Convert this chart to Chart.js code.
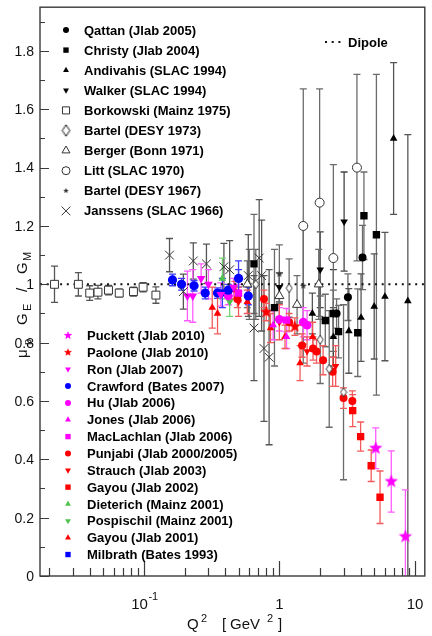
<!DOCTYPE html>
<html>
<head>
<meta charset="utf-8">
<script src="https://cdn.jsdelivr.net/npm/chart.js"></script>
<style>
  html, body { margin: 0; padding: 0; background: #fff; }
</style>
</head>
<body>
<div style="width:432px;height:636px">
  <canvas id="myChart" width="432" height="636"></canvas>
</div>
<script>
// each row: [Q2 (GeV^2), mu_p GE/GM, error]   error may be [down, up]
const qattan = [[2.64, 0.90, 0.05], [3.2, 0.956, 0.08], [4.1, 1.092, 0.11]];
const christy = [[0.65, 1.07, 0.17], [0.92, 0.92, 0.2], [2.18, 0.876, 0.09], [2.5, 0.90, 0.08], [2.73, 0.838, 0.09], [3.78, 0.834, 0.15], [4.2, 1.235, 0.15], [5.19, 1.17, 0.55]];
const andivahis = [[1.75, 0.90, 0.07], [2.5, 0.82, 0.1], [3.25, 0.84, 0.145], [4.0, 0.886, 0.15], [5.0, 0.924, 0.18], [6.0, 0.958, 0.22], [6.95, 1.50, 0.26], [8.85, 0.943, [0.95, 0.57]]];
const walker = [[1.0, 0.99, 0.05], [2.0, 1.05, 0.13], [2.5, 0.90, 0.15], [3.0, 1.215, 0.17]];
const borkowski = [[0.022, 1.0, 0.062], [0.033, 1.0, 0.04], [0.040, 0.97, 0.025], [0.046, 0.973, 0.023], [0.055, 0.98, 0.016], [0.066, 0.97, 0.013], [0.084, 0.975, 0.015], [0.099, 0.99, 0.016], [0.123, 0.963, 0.028]];
const bartel73 = [[0.67, 1.0, 0.12], [1.18, 0.987, 0.1], [2.0, 0.81, 0.15], [2.33, 0.71, 0.2], [2.97, 0.63, 0.3]];
const berger = [[0.58, 1.0, 0.08], [1.0, 0.96, 0.08], [1.35, 0.93, 0.1], [1.95, 1.0, 0.12]];
const litt = [[1.5, 1.2, 0.47], [1.98, 1.28, 0.39], [2.5, 1.09, 0.32], [3.73, 1.40, 0.32]];
const bartel67 = [[0.6, 1.0, 0.12], [1.0, 1.035, 0.1], [1.5, 0.995, 0.2]];
const janssens = [[0.155, 1.10, 0.057], [0.196, 0.975, 0.06], [0.232, 1.08, 0.062], [0.29, 1.07, 0.068], [0.39, 1.06, 0.08], [0.43, 1.05, 0.1], [0.59, 1.03, 0.14], [0.71, 1.09, 0.2], [0.65, 0.85, 0.18], [0.77, 0.78, 0.25], [0.84, 0.75, 0.3], [0.74, 1.03, 0.19]];

const puckett = [[5.13, 0.438, 0.07], [6.68, 0.324, 0.105], [8.49, 0.135, 0.16]];
const paolone = [[0.8, 0.905, 0.03], [1.3, 0.855, 0.03]];
const ron = [[0.21, 0.96, 0.085], [0.23, 0.96, 0.09], [0.265, 1.02, 0.05], [0.30, 1.0, 0.05], [0.37, 0.965, 0.04], [0.46, 0.99, 0.03]];
const crawford = [[0.163, 1.015, 0.02], [0.19, 1.0, 0.02], [0.235, 0.995, 0.018], [0.284, 0.97, 0.02], [0.35, 0.97, 0.018], [0.42, 0.98, 0.02], [0.50, 1.02, 0.03], [0.59, 0.96, 0.03]];
const hu = [[0.42, 0.96, 0.03], [1.0, 0.88, 0.04], [1.5, 0.87, 0.05], [1.6, 0.86, 0.05]];
const jones = [[0.9, 0.86, 0.05], [1.13, 0.82, 0.04]];
const maclachlan = [[0.5, 0.97, 0.03], [1.13, 0.877, 0.04]];
const punjabi = [[0.49, 0.95, 0.03], [0.77, 0.95, 0.03], [1.18, 0.87, 0.03], [1.47, 0.79, 0.04], [1.77, 0.78, 0.04], [1.88, 0.77, 0.04], [2.1, 0.74, 0.05], [2.47, 0.70, 0.05], [2.97, 0.61, 0.035], [3.45, 0.60, 0.035]];
const strauch = [[0.5, 0.94, 0.05], [1.0, 0.87, 0.06], [1.6, 0.77, 0.05], [2.6, 0.72, 0.07]];
const gayou02 = [[3.47, 0.567, 0.055], [3.97, 0.478, 0.05], [4.75, 0.378, 0.054], [5.52, 0.27, 0.09]];
const dieterich = [[0.38, 1.02, 0.07]];
const pospischil = [[0.43, 0.94, 0.05]];
const gayou01 = [[0.32, 0.92, 0.07], [0.35, 0.90, 0.07], [0.47, 0.98, 0.03], [0.58, 0.94, 0.04], [0.86, 0.85, 0.05], [1.1, 0.82, 0.04], [1.42, 0.73, 0.06], [1.76, 0.82, 0.05]];
const milbrath = [[0.38, 0.97, 0.05], [0.5, 1.02, 0.06]];

const dipoleQ2 = [0.0172, 11.8];
const dipoleRatio = [1, 1];

const yTicks = [0, 0.2, 0.4, 0.6, 0.8, 1, 1.2, 1.4, 1.6, 1.8];
const xTicks = [0.1, 1, 10];
const xTickLabels = [['10', '-1'], ['1', ''], ['10', '']];

const RED = '#ff0000', RED_ERR = '#f25b5b';
const MAG = '#ff00ff', MAG_ERR = '#ff5cff';
const BLUE = '#0000ff', BLUE_ERR = '#3c3cff';
const GREEN = '#4ec44e', GREEN_ERR = '#74d374';
const BLK = '#000000', BLK_ERR = '#6b6b6b';
const FONT = '"Liberation Sans", Arial, Helvetica, sans-serif';

function starImage(r, fill) {
  const c = document.createElement('canvas');
  c.width = c.height = Math.ceil(2 * r + 2);
  const g = c.getContext('2d');
  g.translate(c.width / 2, c.height / 2);
  g.beginPath();
  for (let i = 0; i < 10; i++) {
    const rr = i % 2 ? r * 0.42 : r;
    const a = -Math.PI / 2 + i * Math.PI / 5;
    g.lineTo(rr * Math.cos(a), rr * Math.sin(a));
  }
  g.closePath();
  g.fillStyle = fill;
  g.fill();
  return c;
}

function diamondImage(w, h, stroke) {
  const c = document.createElement('canvas');
  c.width = w + 2; c.height = h + 2;
  const g = c.getContext('2d');
  g.translate(c.width / 2, c.height / 2);
  g.beginPath();
  g.moveTo(0, -h / 2); g.lineTo(w / 2, 0); g.lineTo(0, h / 2); g.lineTo(-w / 2, 0);
  g.closePath();
  g.fillStyle = '#fff'; g.fill();
  g.strokeStyle = stroke; g.lineWidth = 1; g.stroke();
  return c;
}

function series(label, rows, group, style) {
  return Object.assign({
    label,
    group,
    data: rows.map(r => ({ x: r[0], y: r[1], e: r[2] })),
    borderWidth: 0,
    pointRotation: 0,
    errWidth: 1.3
  }, style);
}

const datasets = [
  series('Qattan (Jlab 2005)', qattan, 'top', { pointStyle: 'circle', pointRadius: 4, backgroundColor: BLK, borderColor: BLK, errColor: BLK_ERR, legendR: 3 }),
  series('Christy (Jlab 2004)', christy, 'top', { pointStyle: 'rect', pointRadius: 5.2, backgroundColor: BLK, borderColor: BLK, errColor: BLK_ERR, legendR: 3.8 }),
  series('Andivahis (SLAC 1994)', andivahis, 'top', { pointStyle: 'triangle', pointRadius: 4.4, backgroundColor: BLK, borderColor: BLK, errColor: '#555555', legendR: 3.4 }),
  series('Walker (SLAC 1994)', walker, 'top', { pointStyle: 'triangle', pointRotation: 180, pointRadius: 4.4, backgroundColor: BLK, borderColor: BLK, errColor: '#444444', legendR: 3.4 }),
  series('Borkowski (Mainz 1975)', borkowski, 'top', { pointStyle: 'rect', pointRadius: 5.6, backgroundColor: '#fff', borderColor: '#333', borderWidth: 1, errColor: '#555555', legendR: 5 }),
  series('Bartel (DESY 1973)', bartel73, 'top', { pointStyle: diamondImage(6, 9, '#333'), pointRadius: 5, backgroundColor: '#fff', borderColor: '#333', errColor: BLK_ERR, legendR: 5 }),
  series('Berger (Bonn 1971)', berger, 'top', { pointStyle: 'triangle', pointRadius: 5.2, backgroundColor: '#fff', borderColor: '#333', borderWidth: 1, errColor: BLK_ERR, legendR: 4.6 }),
  series('Litt (SLAC 1970)', litt, 'top', { pointStyle: 'circle', pointRadius: 4.5, backgroundColor: '#fff', borderColor: '#333', borderWidth: 1, errColor: BLK_ERR, legendR: 4 }),
  series('Bartel (DESY 1967)', bartel67, 'top', { pointStyle: starImage(3.6, '#333'), pointRadius: 4, backgroundColor: '#333', borderColor: '#333', errColor: BLK_ERR, legendR: 4 }),
  series('Janssens (SLAC 1966)', janssens, 'top', { pointStyle: 'crossRot', pointRadius: 6.2, backgroundColor: '#333', borderColor: '#333', borderWidth: 1, errColor: '#555555', legendR: 6.2 }),

  series('Puckett (Jlab 2010)', puckett, 'bottom', { pointStyle: starImage(7, MAG), pointRadius: 7, backgroundColor: MAG, borderColor: MAG, errColor: MAG_ERR, legendR: 5 }),
  series('Paolone (Jlab 2010)', paolone, 'bottom', { pointStyle: starImage(6.5, RED), pointRadius: 6.5, backgroundColor: RED, borderColor: RED, errColor: RED_ERR, legendR: 5 }),
  series('Ron (Jlab 2007)', ron, 'bottom', { pointStyle: 'triangle', pointRotation: 180, pointRadius: 5, backgroundColor: MAG, borderColor: MAG, errColor: MAG_ERR, legendR: 3.4 }),
  series('Crawford (Bates 2007)', crawford, 'bottom', { pointStyle: 'circle', pointRadius: 4.6, backgroundColor: BLUE, borderColor: BLUE, errColor: BLUE_ERR, legendR: 3 }),
  series('Hu (Jlab 2006)', hu, 'bottom', { pointStyle: 'circle', pointRadius: 4.4, backgroundColor: MAG, borderColor: MAG, errColor: MAG_ERR, legendR: 3 }),
  series('Jones (Jlab 2006)', jones, 'bottom', { pointStyle: 'triangle', pointRadius: 4.4, backgroundColor: MAG, borderColor: MAG, errColor: MAG_ERR, legendR: 3.4 }),
  series('MacLachlan (Jlab 2006)', maclachlan, 'bottom', { pointStyle: 'rect', pointRadius: 5.2, backgroundColor: MAG, borderColor: MAG, errColor: MAG_ERR, legendR: 3.8 }),
  series('Punjabi (Jlab 2000/2005)', punjabi, 'bottom', { pointStyle: 'circle', pointRadius: 4, backgroundColor: RED, borderColor: RED, errColor: RED_ERR, legendR: 3 }),
  series('Strauch (Jlab 2003)', strauch, 'bottom', { pointStyle: 'triangle', pointRotation: 180, pointRadius: 4.2, backgroundColor: RED, borderColor: RED, errColor: RED_ERR, legendR: 3.4 }),
  series('Gayou (Jlab 2002)', gayou02, 'bottom', { pointStyle: 'rect', pointRadius: 5.2, backgroundColor: RED, borderColor: RED, errColor: RED_ERR, legendR: 3.8 }),
  series('Dieterich (Mainz 2001)', dieterich, 'bottom', { pointStyle: 'triangle', pointRadius: 4.4, backgroundColor: GREEN, borderColor: GREEN, errColor: GREEN_ERR, legendR: 3.4 }),
  series('Pospischil (Mainz 2001)', pospischil, 'bottom', { pointStyle: 'triangle', pointRotation: 180, pointRadius: 4.4, backgroundColor: GREEN, borderColor: GREEN, errColor: GREEN_ERR, legendR: 3.4 }),
  series('Gayou (Jlab 2001)', gayou01, 'bottom', { pointStyle: 'triangle', pointRadius: 4.4, backgroundColor: RED, borderColor: RED, errColor: RED_ERR, legendR: 3.4 }),
  series('Milbrath (Bates 1993)', milbrath, 'bottom', { pointStyle: 'rect', pointRadius: 5, backgroundColor: BLUE, borderColor: BLUE, errColor: BLUE_ERR, legendR: 3.8 }),

  {
    label: 'Dipole',
    group: 'dipole',
    data: dipoleQ2.map((q, i) => ({ x: q, y: dipoleRatio[i] })),
    showLine: true,
    borderColor: '#111',
    borderWidth: 2,
    borderDash: [2, 4.7],
    pointRadius: 0,
    order: 10
  }
];

// draw a legend marker the same way as the points
function marker(ctx, ds, x, y) {
  const st = ds.pointStyle, r = ds.legendR;
  ctx.save();
  ctx.translate(x, y);
  ctx.rotate((ds.pointRotation || 0) * Math.PI / 180);
  ctx.fillStyle = ds.backgroundColor;
  ctx.strokeStyle = ds.borderColor;
  ctx.lineWidth = ds.borderWidth || 1;
  if (typeof st !== 'string') {
    const s = (2 * r) / st.width;
    ctx.drawImage(st, -st.width * s / 2, -st.height * s / 2, st.width * s, st.height * s);
    ctx.restore();
    return;
  }
  ctx.beginPath();
  if (st === 'circle') {
    ctx.arc(0, 0, r, 0, 2 * Math.PI);
  } else if (st === 'rect') {
    const h = r * Math.SQRT1_2;
    ctx.rect(-h, -h, 2 * h, 2 * h);
  } else if (st === 'triangle') {
    for (let i = 0; i < 3; i++) {
      const a = i * 2 * Math.PI / 3;
      ctx.lineTo(Math.sin(a) * r, -Math.cos(a) * r);
    }
  } else if (st === 'crossRot') {
    const h = r * Math.SQRT1_2;
    ctx.moveTo(-h, -h); ctx.lineTo(h, h);
    ctx.moveTo(-h, h); ctx.lineTo(h, -h);
    ctx.stroke();
    ctx.restore();
    return;
  }
  ctx.closePath();
  ctx.fill();
  if (ds.borderWidth) ctx.stroke();
  ctx.restore();
}

const errorBars = {
  id: 'errorBars',
  beforeDatasetsDraw(chart) {
    const { ctx, chartArea: a, scales: { x, y } } = chart;
    ctx.save();
    ctx.beginPath();
    ctx.rect(a.left, a.top, a.right - a.left, a.bottom - a.top);
    ctx.clip();
    const cap = 3.5;
    chart.data.datasets.forEach(ds => {
      if (!ds.errColor) return;
      ctx.strokeStyle = ds.errColor;
      ctx.lineWidth = ds.errWidth;
      ds.data.forEach(p => {
        const dn = Array.isArray(p.e) ? p.e[0] : p.e;
        const up = Array.isArray(p.e) ? p.e[1] : p.e;
        const px = x.getPixelForValue(p.x);
        const y0 = y.getPixelForValue(p.y - dn);
        const y1 = y.getPixelForValue(p.y + up);
        ctx.beginPath();
        ctx.moveTo(px, y0); ctx.lineTo(px, y1);
        ctx.moveTo(px - cap, y0); ctx.lineTo(px + cap, y0);
        ctx.moveTo(px - cap, y1); ctx.lineTo(px + cap, y1);
        ctx.stroke();
      });
    });
    ctx.restore();
  }
};

const frameAndText = {
  id: 'frameAndText',
  afterDraw(chart) {
    const { ctx, chartArea: a, scales: { x, y } } = chart;
    ctx.save();
    ctx.strokeStyle = '#3a3a3a';
    ctx.lineWidth = 1.4;
    ctx.strokeRect(a.left, a.top, a.right - a.left, a.bottom - a.top);

    // y ticks (inward)
    ctx.lineWidth = 1.2;
    ctx.beginPath();
    for (let i = 0; i * 0.1 <= y.max + 1e-9; i++) {
      const py = Math.round(y.getPixelForValue(i * 0.1)) + 0.5;
      const len = i % 2 === 0 ? 9 : 5;
      ctx.moveTo(a.left, py); ctx.lineTo(a.left + len, py);
    }
    // x ticks (inward, log)
    for (let k = -2; k <= 1; k++) {
      for (let m = 1; m <= 9; m++) {
        const v = m * Math.pow(10, k);
        if (v < x.min || v > x.max) continue;
        const px = Math.round(x.getPixelForValue(v)) + 0.5;
        const len = m === 1 ? 15 : 8;
        ctx.moveTo(px, a.bottom); ctx.lineTo(px, a.bottom - len);
      }
    }
    ctx.stroke();

    // y tick labels
    ctx.fillStyle = '#111';
    ctx.font = '14px ' + FONT;
    ctx.textAlign = 'right';
    ctx.textBaseline = 'middle';
    yTicks.forEach(v => ctx.fillText(String(v), a.left - 6, y.getPixelForValue(v) + 1));

    // x tick labels with superscripts
    ctx.textBaseline = 'alphabetic';
    xTicks.forEach((v, i) => {
      const [base, sup] = xTickLabels[i];
      ctx.font = '15px ' + FONT;
      const wb = ctx.measureText(base).width;
      const px = x.getPixelForValue(v);
      const left = px - (sup ? wb * 0.75 : wb / 2);
      ctx.textAlign = 'left';
      ctx.fillText(base, left, 609);
      if (sup) {
        ctx.font = '11px ' + FONT;
        ctx.fillText(sup, left + wb + 0.5, 600);
      }
    });

    // x axis title: Q^2 [GeV^2]
    ctx.textAlign = 'left';
    const xt = [['Q', 15, 0], ['2', 11, -7], ['[', 15, 0], ['GeV', 15, 0], ['2', 11, -7], [']', 15, 0]];
    const xPos = [187, 201, 222, 230, 267, 278];
    xt.forEach((t, i) => {
      ctx.font = t[1] + 'px ' + FONT;
      ctx.fillText(t[0], xPos[i], 629 + t[2]);
    });

    // y axis title: mu_p G_E / G_M (rotated)
    ctx.save();
    ctx.translate(27, 358);
    ctx.rotate(-Math.PI / 2);
    const yt = [['\u03BC', 15, 0, 0], ['p', 11, 4, 13], ['G', 15, 0, 33], ['E', 11, 4, 47], ['/', 15, 0, 66], ['G', 15, 0, 84], ['M', 11, 4, 97]];
    yt.forEach(t => {
      ctx.font = t[1] + 'px ' + FONT;
      ctx.fillText(t[0], t[3], t[2]);
    });
    ctx.restore();

    // legends
    ctx.font = 'bold 13px ' + FONT;
    ctx.textBaseline = 'middle';
    const top = chart.data.datasets.filter(d => d.group === 'top');
    top.forEach((d, i) => {
      const ly = 30 + i * 20.1;
      marker(ctx, d, 66, ly);
      ctx.fillStyle = '#000';
      ctx.fillText(d.label, 84, ly + 1);
    });
    const bot = chart.data.datasets.filter(d => d.group === 'bottom');
    bot.forEach((d, i) => {
      const ly = 335.5 + i * 16.85;
      marker(ctx, d, 68, ly);
      ctx.fillStyle = '#000';
      ctx.fillText(d.label, 87, ly + 1);
    });
    // dipole entry
    const dip = chart.data.datasets.find(d => d.group === 'dipole');
    ctx.strokeStyle = dip.borderColor;
    ctx.lineWidth = dip.borderWidth;
    ctx.setLineDash(dip.borderDash);
    ctx.beginPath();
    ctx.moveTo(325, 42); ctx.lineTo(345, 42);
    ctx.stroke();
    ctx.setLineDash([]);
    ctx.fillStyle = '#000';
    ctx.fillText(dip.label, 348, 42 + 1);
    ctx.restore();
  }
};

new Chart(document.getElementById('myChart'), {
  type: 'scatter',
  data: { datasets },
  options: {
    responsive: false,
    animation: false,
    devicePixelRatio: 1,
    layout: { padding: { left: 40, top: 7, right: 3, bottom: 60 } },
    scales: {
      x: { type: 'logarithmic', min: 0.0172, max: 11.8, display: false },
      y: { type: 'linear', min: 0, max: 1.95, display: false }
    },
    plugins: {
      legend: { display: false },
      tooltip: { enabled: false }
    }
  },
  plugins: [errorBars, frameAndText]
});
</script>
</body>
</html>
